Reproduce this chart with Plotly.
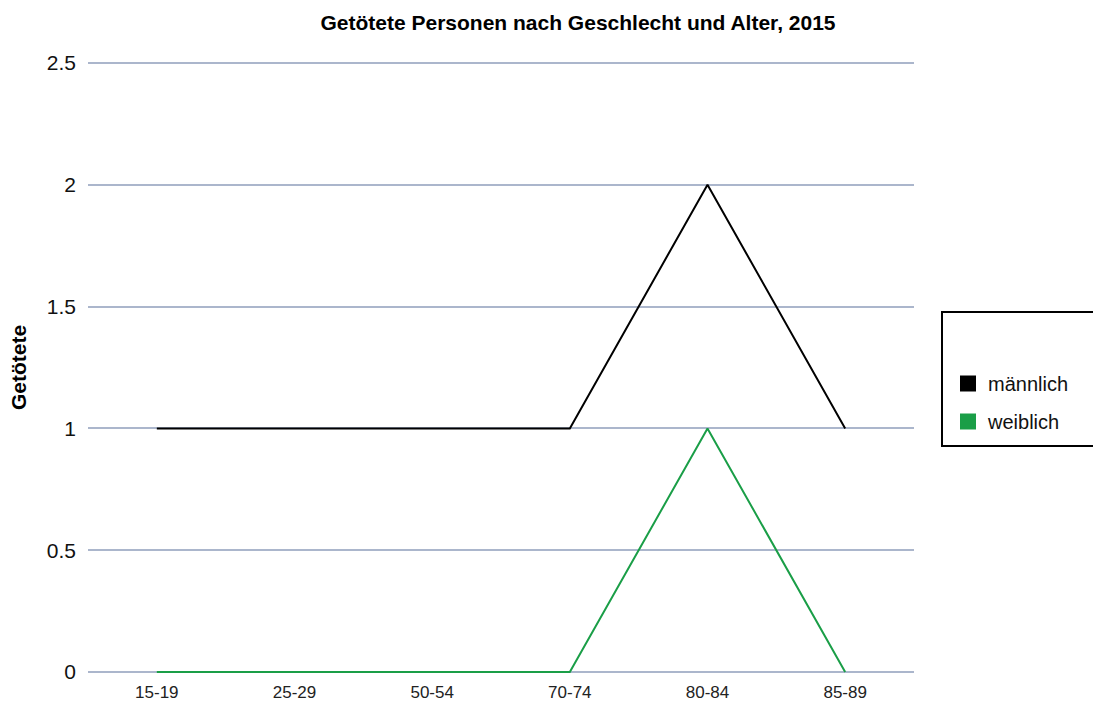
import plotly.graph_objects as go

# Age groups and number of people killed per group
age_groups = ["15-19", "25-29", "50-54", "70-74", "80-84", "85-89"]
maennlich = [1, 1, 1, 1, 2, 1]
weiblich = [0, 0, 0, 0, 1, 0]
y_ticks = [0, 0.5, 1, 1.5, 2, 2.5]
y_tick_labels = ["0", "0.5", "1", "1.5", "2", "2.5"]

BLACK = "#000000"
GREEN = "#1a9e47"
GRID = "#abb6cc"
FONT = "Liberation Sans, Arial, sans-serif"

W, H = 1093, 704
PAD = 0.012  # small y padding so the 0 and 2.5 grid lines are drawn
L, R, T, B = 88, 179, 60, 29
pw, ph = W - L - R, H - T - B


def px_x(x):
    return (x - L) / pw


def px_y(y):
    return (H - B - y) / ph


fig = go.Figure()

# Data lines
fig.add_trace(go.Scatter(x=age_groups, y=maennlich, mode="lines",
                         line=dict(color=BLACK, width=2), showlegend=False))
fig.add_trace(go.Scatter(x=age_groups, y=weiblich, mode="lines",
                         line=dict(color=GREEN, width=2), showlegend=False))

# Square legend entries
fig.add_trace(go.Scatter(x=[None], y=[None], mode="markers", name="männlich",
                         marker=dict(symbol="square", size=16, color=BLACK),
                         legendgroup="m"))
fig.add_trace(go.Scatter(x=[None], y=[None], mode="markers", name="weiblich",
                         marker=dict(symbol="square", size=16, color=GREEN),
                         legendgroup="w"))

# Legend frame
fig.add_shape(type="rect", xref="paper", yref="paper",
              x0=px_x(942), x1=px_x(1110), y0=px_y(446), y1=px_y(312),
              line=dict(color=BLACK, width=2), fillcolor="rgba(0,0,0,0)")

fig.update_layout(
    width=W, height=H,
    margin=dict(l=L, r=R, t=T, b=B, autoexpand=False),
    paper_bgcolor="white", plot_bgcolor="white",
    font=dict(family=FONT, size=20, color="#1a1a1a"),
    title=dict(text="<b>Getötete Personen nach Geschlecht und Alter, 2015</b>",
               x=578 / W, xanchor="center", y=1 - 23 / H, yanchor="middle",
               font=dict(family=FONT, size=21, color="#000000")),
    xaxis=dict(type="category", range=[-0.5, 5.5], showgrid=False,
               showline=False, zeroline=False, ticks="", ticklabelstandoff=5,
               tickfont=dict(size=17, color="#222222")),
    yaxis=dict(range=[-PAD, 2.5 + PAD], tickvals=y_ticks, ticktext=y_tick_labels,
               showgrid=True, gridcolor=GRID, gridwidth=1.5,
               zeroline=False, showline=False, ticks="", ticklabelstandoff=11,
               tickfont=dict(size=21, color="#111111"),
               title=dict(text="<b>Getötete</b>", standoff=14,
                          font=dict(size=21, color="#000000"))),
    legend=dict(x=px_x(948), y=px_y(364), xanchor="left", yanchor="top",
                xref="paper", yref="paper", bgcolor="rgba(0,0,0,0)",
                font=dict(size=20, color="#111111"), tracegroupgap=9,
                itemwidth=30),
)

fig.write_html("out.html")
